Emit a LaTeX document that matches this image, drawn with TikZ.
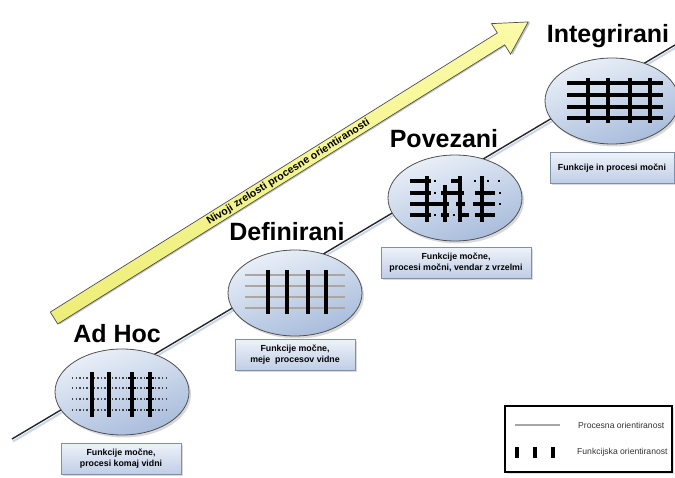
\documentclass[tikz,border=0pt]{standalone}
\usepackage{fontspec}
\setmainfont{Liberation Sans}
\usetikzlibrary{shapes.geometric,shadows,calc}

\definecolor{ellTop}{HTML}{EAF0F8}
\definecolor{ellBot}{HTML}{A7BBDB}
\definecolor{ellEdge}{HTML}{4F4F4F}
\definecolor{boxTop}{HTML}{EEF2F9}
\definecolor{boxBot}{HTML}{BECDE6}
\definecolor{boxEdge}{HTML}{8090A8}
\definecolor{procGray}{HTML}{ADA69E}
\definecolor{dotGray}{HTML}{454545}
\definecolor{arrowTop}{HTML}{FBFBA8}
\definecolor{arrowBot}{HTML}{EDEE78}
\definecolor{lineShadow}{HTML}{C9D6EA}
\definecolor{legendText}{HTML}{333333}

\tikzset{
  stage/.style={ellipse, draw=ellEdge, line width=0.8pt, inner sep=0pt,
    minimum width=134pt, minimum height=86pt,
    top color=ellTop, bottom color=ellBot, shading angle=20,
    drop shadow={opacity=0.3, shadow xshift=2pt, shadow yshift=-2.5pt}},
  caption/.style={rectangle, draw=boxEdge, line width=0.6pt, inner sep=1.5pt,
    minimum height=31pt, align=center,
    top color=boxTop, bottom color=boxBot,
    font=\fontsize{8.8}{11}\selectfont\bfseries,
    drop shadow={opacity=0.3, shadow xshift=1.5pt, shadow yshift=-1.5pt}},
  title/.style={font=\fontsize{25}{28}\selectfont\bfseries, anchor=base, inner sep=0pt},
  funcbar/.style={line width=4pt, black},
  procline/.style={line width=2.5pt, procGray},
  dotrow/.style={line width=1.4pt, dotGray, dash pattern=on 1.4pt off 2.2pt},
  linkbar/.style={line width=3.3pt, black},
  linkdot/.style={fill=black, inner sep=0pt, minimum size=2.6pt, rectangle},
  legendtext/.style={font=\fontsize{8.6}{9}\selectfont, text=legendText, anchor=west, inner sep=0pt}
}

\begin{document}
\begin{tikzpicture}[x=1pt,y=-1pt]
\useasboundingbox (0,0) rectangle (675,478);

% maturity arrow
\begin{scope}[shift={(54,318)}, rotate=31.98]
  \fill[black, opacity=0.25] (1.5,-5.5) -- (528.5,-5.5) -- (528.5,-16.5) -- (560.5,1.5)
     -- (528.5,19.5) -- (528.5,8.5) -- (1.5,8.5) -- cycle;
  \draw[draw=ellEdge, line width=0.7pt, top color=arrowTop, bottom color=arrowBot]
     (0,-7) -- (527,-7) -- (527,-18) -- (559,0) -- (527,18) -- (527,7) -- (0,7) -- cycle;
  \node[transform shape, font=\fontsize{10.6}{10.6}\selectfont\bfseries, inner sep=0pt]
     (arrowlabel) at (276,0.5) {Nivoji zrelosti procesne orientiranosti};
\end{scope}

% progression line
\coordinate (lineA) at (12,439);
\coordinate (lineB) at (675,45);
\draw[lineShadow, line width=2pt] ($(lineA)+(1,2.5)$) -- ($(lineB)+(1,2.5)$);
\draw[black!85, line width=1.4pt] (lineA) -- (lineB);

% stages
\node[stage] (s1) at (122,392) {};
\node[stage] (s2) at (295,293) {};
\node[stage] (s3) at (455,198) {};
\node[stage] (s4) at (612,101) {};

\node[title] (t1) at (117,343) {Ad Hoc};
\node[title] (t2) at (287,241) {Definirani};
\node[title] (t3) at (444,148) {Povezani};
\node[title] (t4) at (608,43) {Integrirani};

\node[caption, minimum width=120pt] (c1) at (121,459) {Funkcije močne,\\procesi komaj vidni};
\node[caption, minimum width=120pt] (c2) at (295,355) {Funkcije močne,\\meje~ procesov vidne};
\node[caption, minimum width=150pt] (c3) at (456,263) {Funkcije močne,\\procesi močni, vendar z vrzelmi};
\node[caption, minimum width=124pt] (c4) at (612,168) {Funkcije in procesi močni};

% Ad Hoc: functions only, processes barely visible
\begin{scope}[shift={(s1.center)}]
  \foreach \y in {-14,-4,7,18} \draw[dotrow] (-50,\y) -- (46,\y);
  \foreach \x in {-30,-13,10,28} \draw[funcbar] (\x,-20) -- (\x,25);
  \foreach \x in {10,28} \foreach \y in {-14,-4,7,18}
    \draw[black, line width=1.6pt] (\x-4,\y) -- (\x+4,\y);
\end{scope}

% Definirani: process boundaries visible
\begin{scope}[shift={(s2.center)}]
  \foreach \y in {-18,-7,4,15} \draw[procline] (-50,\y) -- (50,\y);
  \foreach \x in {-27,-8,13,31} \draw[funcbar] (\x,-23) -- (\x,21);
\end{scope}

% Povezani: processes linked, with gaps
\begin{scope}[shift={(s3.center)}]
  \draw[linkbar] (-28,-22) -- (-28,24) (-10,-13) -- (-10,24) (5,-22) -- (5,24) (27,-22) -- (27,24);
  \draw[linkbar] (-45,-17) -- (-24,-17) (-4,-17) -- (7,-17);
  \draw[linkbar] (-45,-5) -- (-24,-5) (-14,-5) -- (9,-5) (20,-5) -- (40,-5);
  \draw[linkbar] (-45,6) -- (-6,6) (1,6) -- (10,6) (18,6) -- (40,6);
  \draw[linkbar] (-45,17) -- (-24,17) (-14,17) -- (-6,17) (5,17) -- (14,17) (20,17) -- (40,17);
  \foreach \p in {(-20,-17),(20,-17),(33,-17),(44,-17),(-20,-5),(45,-5),(-20,17),(-1,17),(45,6)}
    \node[linkdot] at \p {};
\end{scope}

% Integrirani: full grid
\begin{scope}[shift={(s4.center)}]
  \foreach \y in {-18,-6,6,17} \draw[funcbar] (-45,\y) -- (51,\y);
  \foreach \x in {-24,-4,18,38} \draw[funcbar] (\x,-23) -- (\x,22);
\end{scope}

% legend
\node[draw=black, line width=1.1pt, fill=white, minimum width=167pt, minimum height=66pt,
      drop shadow={opacity=0.25, shadow xshift=1.5pt, shadow yshift=-1.5pt}] (legend) at (588.5,439) {};
\coordinate (lgA) at (515,425);
\coordinate (lgB) at (560,425);
\draw[line width=2.5pt, black!35] (lgA) -- (lgB);
\node[legendtext] (lg1) at (578,425) {Procesna orientiranost};
\foreach \x in {517,535,553} \draw[funcbar] (\x,447) -- (\x,458);
\node[legendtext] (lg2) at (577,452) {Funkcijska orientiranost};
\end{tikzpicture}
\end{document}
